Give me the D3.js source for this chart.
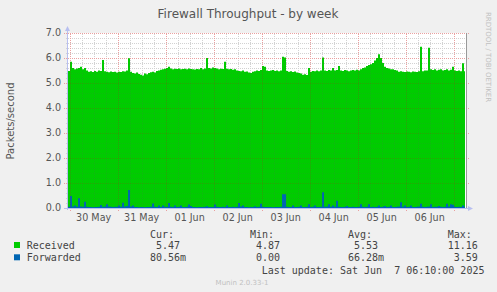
<!DOCTYPE html>
<html>
<head>
<meta charset="utf-8">
<script src="https://cdn.jsdelivr.net/npm/d3@7"></script>
<style>
  body { margin: 0; background: #f0f0f0; }
  svg { display: block; }
  text { font-family: "DejaVu Sans", sans-serif; }
  .mono { font-family: "DejaVu Sans Mono", monospace; white-space: pre; }
  .grid rect { shape-rendering: crispEdges; }
</style>
</head>
<body>
<svg id="chart"></svg>
<script>
// series (hourly samples, oldest first, ending at the last update)
const seriesNames = ['Received', 'Forwarded'];
const seriesColors = ['#00cc00', '#0066b3'];

const received = [
  5.45,5.48,5.85,5.60,5.55,5.58,5.60,5.65,5.55,5.60,5.50,5.45,5.47,5.44,5.48,5.45,5.50,5.48,5.92,5.47,
  5.45,5.43,5.46,5.44,5.45,5.42,5.45,5.44,5.47,5.46,5.50,5.99,5.45,5.40,5.38,5.42,5.36,5.33,5.30,5.38,
  5.35,5.40,5.43,5.45,5.42,5.48,5.50,5.53,5.55,5.57,5.60,5.65,5.58,5.55,5.57,5.56,5.58,5.55,5.56,5.57,
  5.55,5.58,5.56,5.55,5.54,5.56,5.55,5.60,5.55,5.58,6.00,5.60,5.58,5.62,5.60,5.58,5.55,5.57,5.56,5.85,
  5.57,5.55,5.56,5.53,5.55,5.50,5.48,5.47,5.50,5.45,5.46,5.42,5.40,5.45,5.47,5.50,5.48,5.52,5.68,5.65,
  5.50,5.48,5.50,5.52,5.48,5.50,5.47,5.50,6.05,6.02,5.48,5.45,5.47,5.44,5.46,5.42,5.40,5.38,5.33,5.35,
  5.32,5.60,5.45,5.48,5.47,5.50,5.47,5.50,6.02,5.50,5.48,5.52,5.50,5.60,5.50,5.52,5.68,5.50,5.48,5.52,
  5.50,5.47,5.50,5.52,5.50,5.53,5.50,5.55,5.60,5.62,5.68,5.72,5.75,5.80,5.90,6.00,6.15,6.00,5.80,5.65,
  5.60,5.58,5.55,5.55,5.52,5.50,5.45,5.47,5.45,5.44,5.46,5.45,5.43,5.46,5.45,5.44,5.47,6.45,5.47,5.50,
  5.50,6.41,5.55,5.52,5.55,5.50,5.53,5.55,5.50,5.52,5.55,5.50,5.53,5.65,5.50,5.48,5.50,5.47,5.79,5.47
];

const forwarded = [
  0.06,0.05,0.48,0.06,0.10,0.05,0.39,0.06,0.05,0.25,0.05,0.04,0.04,0.03,0.04,0.04,0.05,0.12,0.05,0.06,
  0.15,0.06,0.05,0.04,0.05,0.05,0.10,0.05,0.21,0.06,0.08,0.72,0.06,0.10,0.04,0.04,0.03,0.04,0.04,0.03,
  0.04,0.04,0.05,0.18,0.05,0.04,0.10,0.04,0.10,0.05,0.04,0.20,0.05,0.04,0.10,0.04,0.05,0.10,0.04,0.04,
  0.05,0.14,0.08,0.04,0.04,0.03,0.04,0.04,0.04,0.05,0.07,0.04,0.04,0.04,0.14,0.05,0.04,0.04,0.05,0.04,
  0.10,0.04,0.04,0.05,0.04,0.05,0.20,0.06,0.10,0.04,0.04,0.03,0.04,0.04,0.07,0.04,0.05,0.17,0.05,0.04,
  0.04,0.04,0.04,0.03,0.04,0.04,0.04,0.05,0.55,0.55,0.05,0.04,0.04,0.10,0.04,0.04,0.05,0.10,0.04,0.04,
  0.05,0.15,0.04,0.05,0.10,0.04,0.04,0.05,0.63,0.05,0.06,0.15,0.05,0.10,0.05,0.29,0.05,0.04,0.04,0.05,
  0.08,0.04,0.04,0.05,0.04,0.04,0.05,0.15,0.05,0.04,0.05,0.15,0.04,0.05,0.04,0.05,0.10,0.04,0.05,0.08,
  0.04,0.05,0.10,0.04,0.04,0.05,0.06,0.23,0.05,0.10,0.04,0.05,0.10,0.04,0.04,0.05,0.06,0.17,0.05,0.04,
  0.05,0.06,0.15,0.04,0.05,0.05,0.08,0.05,0.04,0.05,0.17,0.06,0.15,0.13,0.05,0.04,0.05,0.04,0.10,0.05
];

const yTicks = [0, 1, 2, 3, 4, 5, 6, 7];
const yTickLabels = ['0.0', '1.0', '2.0', '3.0', '4.0', '5.0', '6.0', '7.0'];

// legend table
const legendHeaders = ['Cur:', 'Min:', 'Avg:', 'Max:'];
const curValues = [' 5.47', '80.56m'];
const minValues = [' 4.87', ' 0.00'];
const avgValues = [' 5.53', '66.28m'];
const maxValues = ['11.16', ' 3.59'];

const lastUpdate = Date.UTC(2025, 5, 7, 6, 10);
const spanHours = 200;

const svg = d3.select('#chart').attr('width', 497).attr('height', 292);

const plotL = 66, plotR = 466, plotT = 33, plotB = 208;

const t0 = new Date(lastUpdate - spanHours * 3600e3);
const t1 = new Date(lastUpdate);

const xScale = d3.scaleTime().domain([t0, t1]).range([plotL, plotR]);
const yScale = d3.scaleLinear().domain([0, 7]).range([plotB, plotT]);

const timeOf = i => new Date(+t0 + (i + 0.5) * 3600e3);

const minorY = d3.range(1, 35).map(d => d / 5).filter(d => Math.abs(d - Math.round(d)) > 1e-6);
const minorX = d3.utcHour.every(6).range(t0, t1).filter(d => d.getUTCHours() !== 0);
const days = d3.utcDay.range(t0, t1);

const area = d3.area()
    .x((d, i) => xScale(timeOf(i)))
    .y0(yScale(0))
    .y1(d => yScale(d))
    .curve(d3.curveStep);

// dotted-line patterns, one pixel on / one pixel off
const defs = svg.append('defs');
function dotPattern(id, color, horizontal) {
  const p = defs.append('pattern')
      .attr('id', id)
      .attr('patternUnits', 'userSpaceOnUse')
      .attr('width', horizontal ? 2 : 1)
      .attr('height', horizontal ? 1 : 2);
  p.append('rect').attr('width', 1).attr('height', 1).attr('fill', color);
}
dotPattern('hMinor', '#d2d2d2', true);
dotPattern('vMinor', '#d2d2d2', false);
dotPattern('hMajor', '#eaa0a0', true);
dotPattern('vMajor', '#eaa0a0', false);
dotPattern('hMinorT', 'rgba(90,90,90,0.14)', true);
dotPattern('vMinorT', 'rgba(90,90,90,0.14)', false);
dotPattern('hMajorT', 'rgba(170,30,30,0.25)', true);
dotPattern('vMajorT', 'rgba(170,30,30,0.25)', false);

// clip for the grid that shows through the filled areas
defs.append('clipPath').attr('id', 'dataClip')
  .append('path')
    .datum(received)
    .attr('d', area);

// title
svg.append('text')
    .attr('x', 248).attr('y', 18)
    .attr('text-anchor', 'middle')
    .attr('font-size', 12)
    .attr('fill', '#555')
    .text('Firewall Throughput - by week');

svg.append('text')
    .attr('transform', 'translate(14,121) rotate(-90)')
    .attr('text-anchor', 'middle')
    .attr('font-size', 10)
    .attr('fill', '#555')
    .text('Packets/second');

svg.append('text')
    .attr('transform', 'translate(486,57) rotate(90)')
    .attr('text-anchor', 'middle')
    .attr('font-size', 7)
    .attr('fill', '#c0c0c0')
    .text('RRDTOOL / TOBI OETIKER');

// plot background
svg.append('rect')
    .attr('x', plotL + 1).attr('y', plotT)
    .attr('width', plotR - plotL).attr('height', plotB - plotT)
    .attr('fill', '#fff');

function drawGrid(suffix) {
  const grid = svg.append('g').attr('class', 'grid');
  const py = d => Math.round(yScale(d));
  const px = d => Math.round(xScale(d));

  grid.append('g').selectAll('rect').data(minorY).join('rect')
      .attr('x', plotL - 1).attr('width', plotR - plotL + 3)
      .attr('y', py).attr('height', 1)
      .attr('fill', `url(#hMinor${suffix})`);

  grid.append('g').selectAll('rect').data(minorX).join('rect')
      .attr('x', px).attr('width', 1)
      .attr('y', plotT).attr('height', plotB - plotT + 2)
      .attr('fill', `url(#vMinor${suffix})`);

  grid.append('g').selectAll('rect').data(yTicks.slice(1)).join('rect')
      .attr('x', plotL - 2).attr('width', plotR - plotL + 5)
      .attr('y', py).attr('height', 1)
      .attr('fill', `url(#hMajor${suffix})`);

  grid.append('g').selectAll('rect').data(days).join('rect')
      .attr('x', px).attr('width', 1)
      .attr('y', plotT).attr('height', plotB - plotT + 3)
      .attr('fill', `url(#vMajor${suffix})`);
  return grid;
}

// grid on the white background
drawGrid('');

// areas
[received, forwarded].forEach((values, k) => {
  svg.append('path')
      .datum(values)
      .attr('d', area)
      .attr('fill', seriesColors[k]);
});

// faint grid showing through the areas
drawGrid('T').attr('clip-path', 'url(#dataClip)');

// axes
const axisColor = '#b8bff0';
svg.append('line')
    .attr('x1', plotL - 2).attr('x2', plotR + 4)
    .attr('y1', plotB + 0.5).attr('y2', plotB + 0.5)
    .attr('stroke', axisColor);
svg.append('line')
    .attr('x1', plotL + 1.5).attr('x2', plotL + 1.5)
    .attr('y1', plotB + 2).attr('y2', plotT - 4)
    .attr('stroke', axisColor);
svg.append('path')
    .attr('d', `M${plotL - 1},${plotT - 2}L${plotL + 4},${plotT - 2}L${plotL + 1.5},${plotT - 7}Z`)
    .attr('fill', axisColor);
svg.append('path')
    .attr('d', `M${plotR + 2},${plotB - 2}L${plotR + 2},${plotB + 3}L${plotR + 7},${plotB + 0.5}Z`)
    .attr('fill', axisColor);

// right edge rule
svg.append('line')
    .attr('x1', plotR + 0.5).attr('x2', plotR + 0.5)
    .attr('y1', plotT).attr('y2', plotB)
    .attr('stroke', '#999');

// tick labels
svg.append('g').selectAll('text').data(yTicks).join('text')
    .attr('x', 61).attr('y', d => yScale(d))
    .attr('dy', '0.36em')
    .attr('text-anchor', 'end')
    .attr('font-size', 9.6)
    .attr('fill', '#555')
    .text((d, i) => yTickLabels[i]);

const noons = days.map(d => d3.utcHour.offset(d, 12)).filter(d => d < t1);
const fmt = d3.utcFormat('%d %b');
svg.append('g').selectAll('text').data(noons).join('text')
    .attr('x', d => xScale(d)).attr('y', 220.5)
    .attr('text-anchor', 'middle')
    .attr('font-size', 9.6)
    .attr('fill', '#555')
    .text(d => fmt(d));

// legend
const legend = svg.append('g').attr('class', 'mono').attr('font-size', 10).attr('fill', '#444');
const colX = [150, 250, 348, 447.7];
legend.selectAll('.hdr').data(legendHeaders).join('text')
    .attr('class', 'mono')
    .attr('x', (d, i) => colX[i]).attr('y', 237.5)
    .text(d => d);

seriesNames.forEach((name, k) => {
  const y = 248.5 + k * 12.3;
  legend.append('rect')
      .attr('x', 14).attr('y', y - 6.5)
      .attr('width', 6).attr('height', 6)
      .attr('fill', seriesColors[k]);
  legend.append('text').attr('class', 'mono')
      .attr('x', 26.7).attr('y', y).text(name);
  [curValues, minValues, avgValues, maxValues].forEach((vals, c) => {
    legend.append('text').attr('class', 'mono')
        .attr('x', colX[c]).attr('y', y)
        .text(vals[k]);
  });
});

legend.append('text').attr('class', 'mono')
    .attr('x', 261.7).attr('y', 273.5)
    .text('Last update: Sat Jun  7 06:10:00 2025');

svg.append('text')
    .attr('x', 242).attr('y', 285)
    .attr('text-anchor', 'middle')
    .attr('font-size', 7)
    .attr('fill', '#c0c0c0')
    .text('Munin 2.0.33-1');
</script>
</body>
</html>
